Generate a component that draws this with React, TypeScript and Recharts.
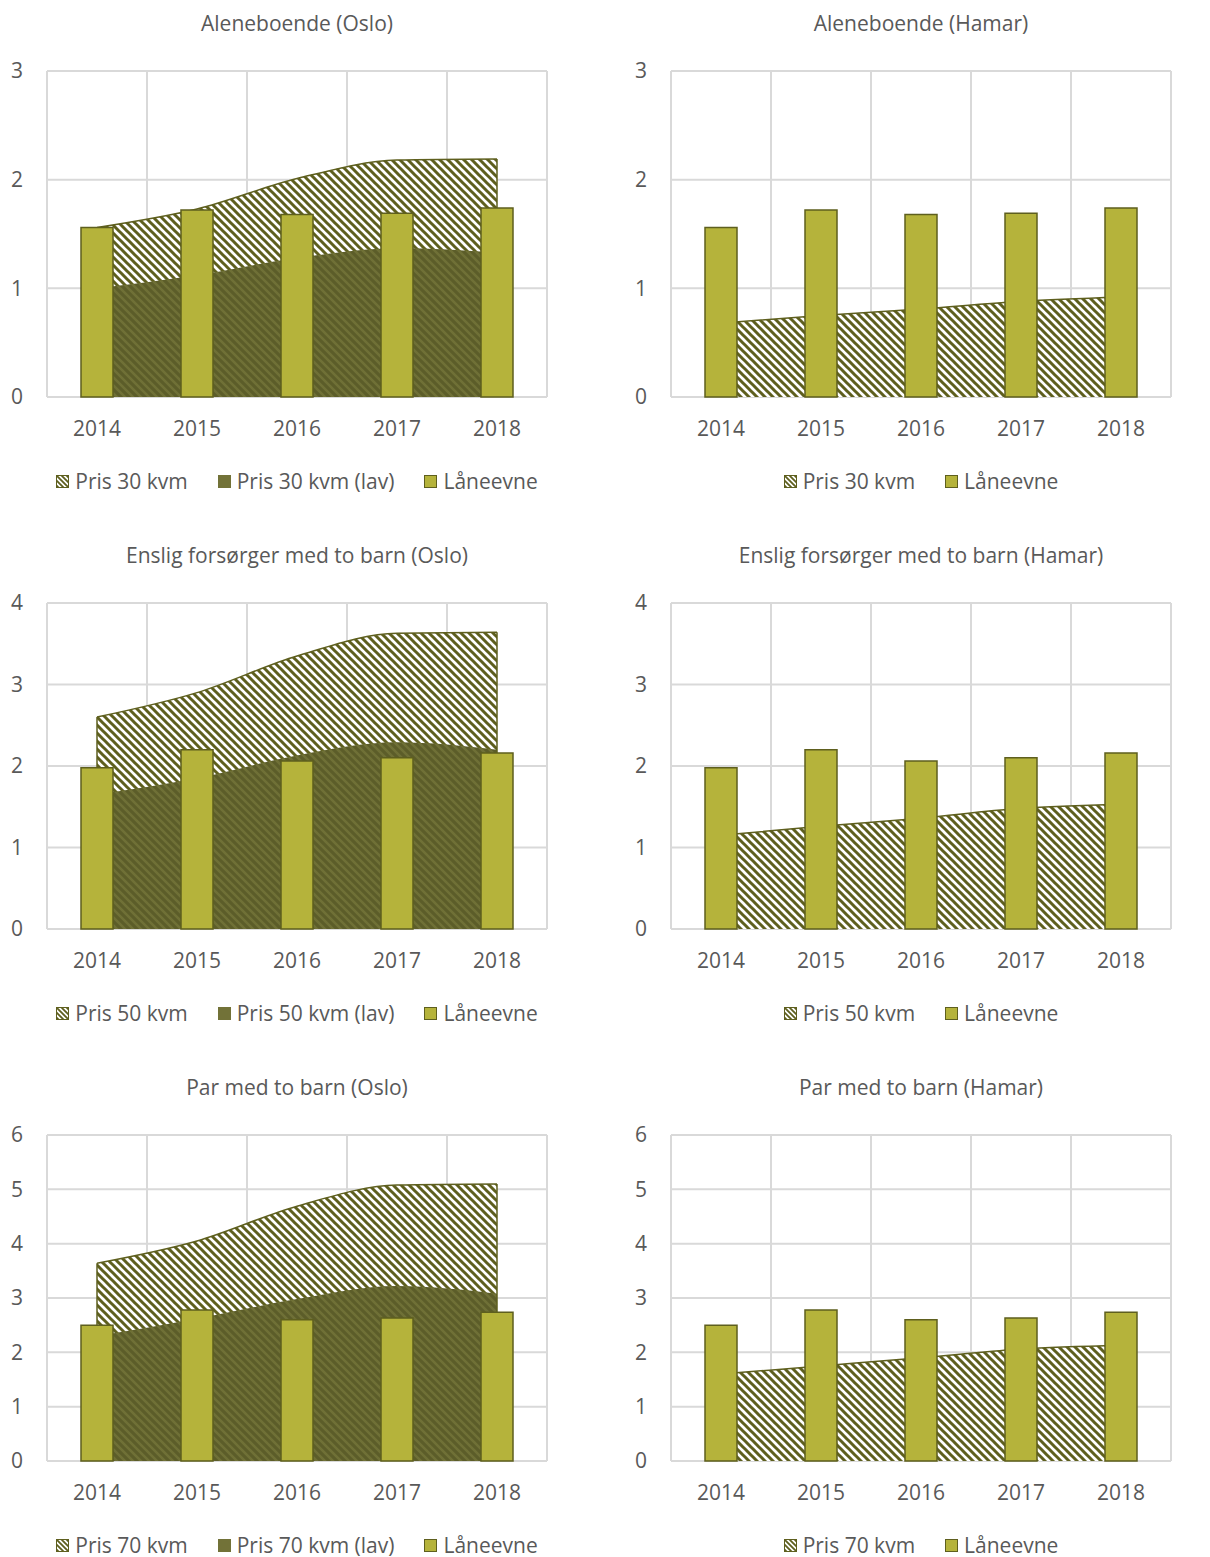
import React from 'react';
import { ComposedChart, Area, Bar, XAxis, YAxis, CartesianGrid, ReferenceLine } from 'recharts';

const years = ['2014', '2015', '2016', '2017', '2018'];

// Låneevne (same for Oslo and Hamar)
const laaneevneAlene = [1.56, 1.72, 1.68, 1.69, 1.74];
const laaneevneEnslig = [1.98, 2.2, 2.06, 2.1, 2.16];
const laaneevnePar = [2.5, 2.78, 2.6, 2.63, 2.74];

// Oslo prices
const prisOslo30 = [1.56, 1.73, 2.01, 2.18, 2.19];
const prisOslo30Lav = [1.0, 1.12, 1.28, 1.37, 1.33];
const prisOslo50 = [2.6, 2.9, 3.35, 3.63, 3.64];
const prisOslo50Lav = [1.65, 1.85, 2.13, 2.29, 2.2];
const prisOslo70 = [3.64, 4.05, 4.69, 5.08, 5.1];
const prisOslo70Lav = [2.3, 2.62, 2.98, 3.22, 3.08];

// Hamar prices
const prisHamar30 = [0.68, 0.75, 0.81, 0.88, 0.92];
const prisHamar50 = [1.15, 1.26, 1.36, 1.48, 1.53];
const prisHamar70 = [1.6, 1.75, 1.9, 2.06, 2.13];

const ticks3 = [0, 1, 2, 3];
const ticks4 = [0, 1, 2, 3, 4];
const ticks6 = [0, 1, 2, 3, 4, 5, 6];

const TEXT = '#595959';
const OLIVE = '#5e5f1e';
const BAR = '#b5b33b';
const LAV = '#727238';
const GRID = '#d9d9d9';
const FONT = '"Open Sans", sans-serif';
const FS = 21;

interface PanelProps {
  id: string;
  title: string;
  pris: number[];
  lav?: number[];
  laan: number[];
  ticks: number[];
  prisName: string;
  left: number;
  top: number;
}

function Swatch({ kind, id }: { kind: 'hatch' | 'lav' | 'bar'; id: string }) {
  if (kind === 'lav') {
    return <div style={{ width: 13, height: 13, background: LAV }} />;
  }
  if (kind === 'bar') {
    return <div style={{ width: 11, height: 11, background: BAR, border: `1px solid ${OLIVE}` }} />;
  }
  return (
    <svg width={13} height={13} style={{ display: 'block' }}>
      <defs>
        <pattern id={`lg-${id}`} width={5} height={5} patternUnits="userSpaceOnUse">
          <rect width={5} height={5} fill="#fff" />
          <path d="M-1,-1 L6,6 M-1,4 L1,6 M4,-1 L6,1" stroke={OLIVE} strokeWidth={1.8} />
        </pattern>
      </defs>
      <rect x={0.5} y={0.5} width={12} height={12} fill={`url(#lg-${id})`} stroke={OLIVE} strokeWidth={1} />
    </svg>
  );
}

function Panel({ id, title, pris, lav, laan, ticks, prisName, left, top }: PanelProps) {
  const data = years.map((year, i) => ({
    year,
    pris: pris[i],
    lav: lav ? lav[i] : undefined,
    laan: laan[i],
  }));
  const yMax = ticks[ticks.length - 1];

  const legend: { label: string; kind: 'hatch' | 'lav' | 'bar' }[] = [
    { label: prisName, kind: 'hatch' },
  ];
  if (lav) legend.push({ label: `${prisName} (lav)`, kind: 'lav' });
  legend.push({ label: 'Låneevne', kind: 'bar' });

  return (
    <div style={{ position: 'absolute', left, top, width: 600, height: 532, fontFamily: FONT }}>
      <div
        style={{
          position: 'absolute',
          left: 47,
          top: 9,
          width: 500,
          textAlign: 'center',
          fontSize: FS,
          lineHeight: '28px',
          color: TEXT,
        }}
      >
        {title}
      </div>
      <div style={{ position: 'absolute', left: 0, top: 0 }}>
        <ComposedChart
          width={600}
          height={460}
          data={data}
          margin={{ top: 71, right: 0, bottom: 23, left: 0 }}
          barCategoryGap={34}
        >
          <defs>
            <pattern id={`hatch-${id}`} width={8} height={8} patternUnits="userSpaceOnUse">
              <rect width={8} height={8} fill="#ffffff" />
              <path d="M-2,-2 L10,10 M-2,6 L2,10 M6,-2 L10,2" stroke={OLIVE} strokeWidth={3} />
            </pattern>
            <pattern id={`lav-${id}`} width={8} height={8} patternUnits="userSpaceOnUse">
              <rect width={8} height={8} fill="#5c5d29" />
              <path d="M-2,-2 L10,10 M-2,6 L2,10 M6,-2 L10,2" stroke="#6f7036" strokeWidth={2.5} />
            </pattern>
          </defs>
          <CartesianGrid
            stroke={GRID}
            strokeWidth={2}
            verticalCoordinatesGenerator={({ offset }: any) =>
              [0, 1, 2, 3, 4, 5].map((i) => offset.left + (i * offset.width) / years.length)
            }
          />
          <XAxis
            dataKey="year"
            axisLine={false}
            tickLine={false}
            tickSize={0}
            tickMargin={24}
            height={40}
            tick={{ fill: TEXT, fontSize: FS, fontFamily: FONT }}
          />
          <YAxis
            domain={[0, yMax]}
            ticks={ticks}
            width={47}
            axisLine={false}
            tickLine={false}
            tickSize={0}
            tickMargin={24}
            tick={{ fill: TEXT, fontSize: FS, fontFamily: FONT }}
          />
          <YAxis
            yAxisId="right"
            orientation="right"
            domain={[0, yMax]}
            ticks={ticks}
            width={53}
            axisLine={false}
            tickLine={false}
            tickSize={0}
            tickMargin={24}
            tick={{ fill: TEXT, fontSize: FS, fontFamily: FONT, textAnchor: 'start' }}
          />
          <Area
            type="monotone"
            dataKey="pris"
            fill={`url(#hatch-${id})`}
            fillOpacity={1}
            stroke={OLIVE}
            strokeWidth={1.5}
            isAnimationActive={false}
            dot={false}
            activeDot={false}
          />
          {lav && (
            <Area
              type="monotone"
              dataKey="lav"
              fill={`url(#lav-${id})`}
              fillOpacity={1}
              stroke="none"
              isAnimationActive={false}
              dot={false}
              activeDot={false}
            />
          )}
          {pris[0] > laan[0] && (
            <ReferenceLine
              segment={[
                { x: years[0], y: laan[0] },
                { x: years[0], y: pris[0] },
              ]}
              stroke={OLIVE}
              strokeWidth={1.5}
            />
          )}
          {pris[4] > laan[4] && (
            <ReferenceLine
              segment={[
                { x: years[4], y: laan[4] },
                { x: years[4], y: pris[4] },
              ]}
              stroke={OLIVE}
              strokeWidth={1.5}
            />
          )}
          <Bar
            dataKey="laan"
            fill={BAR}
            stroke={OLIVE}
            strokeWidth={1.5}
            barSize={32}
            isAnimationActive={false}
          />
        </ComposedChart>
      </div>
      <div
        style={{
          position: 'absolute',
          left: 47,
          top: 467,
          width: 500,
          display: 'flex',
          justifyContent: 'center',
          gap: 30,
          fontSize: FS,
          lineHeight: '28px',
          color: TEXT,
        }}
      >
        {legend.map((item) => (
          <div key={item.label} style={{ display: 'flex', alignItems: 'center', gap: 6 }}>
            <Swatch kind={item.kind} id={`${id}-${item.kind}`} />
            <span>{item.label}</span>
          </div>
        ))}
      </div>
    </div>
  );
}

export default function App() {
  return (
    <div style={{ position: 'absolute', left: 0, top: 0, width: 1210, height: 1557, background: '#ffffff' }}>
      <Panel id="a" title="Aleneboende (Oslo)" pris={prisOslo30} lav={prisOslo30Lav} laan={laaneevneAlene} ticks={ticks3} prisName="Pris 30 kvm" left={0} top={0} />
      <Panel id="b" title="Aleneboende (Hamar)" pris={prisHamar30} laan={laaneevneAlene} ticks={ticks3} prisName="Pris 30 kvm" left={624} top={0} />
      <Panel id="c" title="Enslig forsørger med to barn (Oslo)" pris={prisOslo50} lav={prisOslo50Lav} laan={laaneevneEnslig} ticks={ticks4} prisName="Pris 50 kvm" left={0} top={532} />
      <Panel id="d" title="Enslig forsørger med to barn (Hamar)" pris={prisHamar50} laan={laaneevneEnslig} ticks={ticks4} prisName="Pris 50 kvm" left={624} top={532} />
      <Panel id="e" title="Par med to barn (Oslo)" pris={prisOslo70} lav={prisOslo70Lav} laan={laaneevnePar} ticks={ticks6} prisName="Pris 70 kvm" left={0} top={1064} />
      <Panel id="f" title="Par med to barn (Hamar)" pris={prisHamar70} laan={laaneevnePar} ticks={ticks6} prisName="Pris 70 kvm" left={624} top={1064} />
    </div>
  );
}
